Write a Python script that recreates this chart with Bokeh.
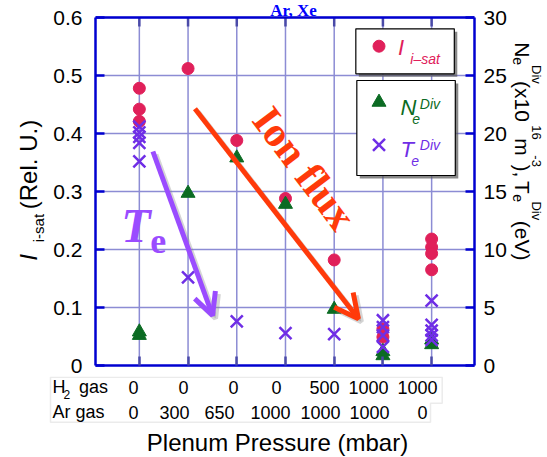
from math import pi, radians, sin, cos
from bokeh.plotting import figure
from bokeh.layouts import column, row
from bokeh.models import (Range1d, LinearAxis, FixedTicker, Label, Arrow, OpenHead,
                          PolyAnnotation, Span)
from bokeh.embed import file_html
from bokeh.resources import INLINE

# ---------------- data ----------------
categories = [1, 2, 3, 4, 5, 6, 7]
h2_gas = ["0", "0", "0", "0", "500", "1000", "1000"]
ar_gas = ["0", "300", "650", "1000", "1000", "1000", "0"]

isat_x = [1, 1, 1, 2, 3, 4, 5, 6, 6, 7, 7, 7, 7]
isat_y = [0.478, 0.442, 0.421, 0.512, 0.388, 0.288, 0.182, 0.063, 0.049, 0.218, 0.204, 0.193, 0.165]

ne_x = [1, 1, 2, 3, 4, 5, 6, 6, 7, 7]
ne_y = [2.9, 2.6, 14.85, 17.9, 13.9, 4.85, 1.2, 0.85, 2.2, 1.8]

te_x = [1, 1, 1, 1, 1, 2, 3, 4, 5, 6, 6, 6, 6, 7, 7, 7, 7, 7]
te_y = [20.6, 20.1, 19.7, 19.2, 17.6, 7.6, 3.8, 2.8, 2.7, 3.9, 3.3, 2.6, 1.6, 5.6, 3.5, 3.0, 2.6, 2.2]

left_ticks = [0, 0.1, 0.2, 0.3, 0.4, 0.5, 0.6]
right_ticks = [0, 5, 10, 15, 20, 25, 30]
LEFT_MAX, RIGHT_MAX = 0.6, 30

# ---------------- styles ----------------
C_I = "#e0205a"
C_N = "#0b6b23"
C_T = "#6f2ee6"
C_TE_ARROW = "#9a4cff"
C_ION = "#ff3a0a"
C_GRID = "#8c8cd4"
C_BLUE = "#0000d0"
C_TICK = "#4a4aa8"
SANS = "Liberation Sans"
SERIF = "Liberation Serif"
MID = 0.35   # baseline -> em-box middle, in units of font size

PW, PH = 547, 457
ROW_H = 376           # main row height (page top to just below the "0" tick labels)
BOT_H = PH - ROW_H
LEFT_W = 50
MAIN_R = 509          # right edge of the main figure
RIGHT_W = PW - MAIN_R
MAIN_W = MAIN_R - LEFT_W

# plotting box in page pixel coordinates; the frame reaches the page top so the
# title above the box can show
FX0, FX1, FY0, FY1 = 95.0, 476.0, 17.0, 365.0
X0, X1 = 0.1, 7.88
Y_TOP = LEFT_MAX * FY1 / (FY1 - FY0)


def dx(px):
    return X0 + (px - FX0) / (FX1 - FX0) * (X1 - X0)


def dy(py):
    return (FY1 - py) / (FY1 - FY0) * LEFT_MAX


# ---------------- main plot ----------------
p = figure(width=MAIN_W, height=ROW_H, x_range=Range1d(X0, X1), y_range=Range1d(0, Y_TOP),
           output_backend="svg", toolbar_location=None, title=None,
           min_border_left=int(FX0 - LEFT_W), min_border_right=int(MAIN_R - FX1),
           min_border_top=0, min_border_bottom=int(ROW_H - FY1))
p.extra_y_ranges = {"r": Range1d(0, RIGHT_MAX * FY1 / (FY1 - FY0))}
p.background_fill_color = "white"
p.border_fill_color = "white"
p.outline_line_color = None

p.xgrid.visible = False
p.ygrid.ticker = FixedTicker(ticks=left_ticks)
p.ygrid.grid_line_color = C_GRID
p.ygrid.grid_line_width = 1.5


def style_axis(ax, tick_color, label_size="21px"):
    ax.axis_line_color = C_BLUE
    ax.axis_line_width = 2.5
    ax.major_tick_in = 9
    ax.major_tick_out = 0
    ax.major_tick_line_color = tick_color
    ax.major_tick_line_width = 2.5
    ax.minor_tick_line_color = None
    ax.major_label_text_font = SANS
    ax.major_label_text_font_size = label_size
    ax.major_label_text_color = "black"


xa = p.xaxis[0]
xa.ticker = FixedTicker(ticks=categories)
style_axis(xa, C_TICK, "0px")
xa.major_label_overrides = {c: "" for c in categories}
xa.major_label_standoff = 0

ya = p.yaxis[0]
ya.ticker = FixedTicker(ticks=left_ticks)
ya.bounds = (0, LEFT_MAX)
style_axis(ya, C_BLUE)
ya.major_label_overrides = {0: "0"}
ya.major_label_standoff = 13

ra = LinearAxis(y_range_name="r", ticker=FixedTicker(ticks=right_ticks), bounds=(0, RIGHT_MAX))
style_axis(ra, C_BLUE)
ra.major_label_standoff = 9
p.add_layout(ra, "right")

# vertical grid lines at the categories, and inward ticks on the top edge
n = len(categories)
p.segment(x0=categories, y0=[0] * n, x1=categories, y1=[LEFT_MAX] * n,
          line_color=C_GRID, line_width=1.5)
p.segment(x0=categories, y0=[LEFT_MAX] * n, x1=categories, y1=[dy(FY0 + 9)] * n,
          line_color=C_TICK, line_width=2.5)
p.add_layout(Span(location=LEFT_MAX, dimension="width", line_color=C_BLUE, line_width=2.5))

# legend boxes (drawn before the markers)
for (l, t, r, b) in [(356.7, 28.3, 455.7, 73.3), (357.7, 80.0, 456.7, 175.0)]:
    p.quad(left=[dx(l + 3)], right=[dx(r + 3)], top=[dy(t + 3)], bottom=[dy(b + 3)],
           fill_color="#555555", fill_alpha=0.7, line_color=None)
    p.quad(left=[dx(l)], right=[dx(r)], top=[dy(t)], bottom=[dy(b)],
           fill_color="white", fill_alpha=1.0, line_color="black", line_width=1.2)

# data
p.scatter(isat_x, isat_y, marker="circle", size=12, fill_color=C_I, line_color=C_I)
p.scatter(ne_x, ne_y, y_range_name="r", marker="triangle", size=14,
          fill_color=C_N, line_color=C_N)
p.scatter(te_x, te_y, y_range_name="r", marker="x", size=17,
          line_color=C_T, line_width=2.5)


def lab(fig, fx, fy, px, py, text, size, color="black", font=SANS, style="normal",
        angle=0.0, align="left", baseline="alphabetic"):
    # (px, py): page position of the text baseline start (or of the centre for "middle")
    if baseline == "alphabetic":
        px = px - MID * size * sin(angle)
        py = py - MID * size * cos(angle)
    fig.add_layout(Label(x=fx(px), y=fy(py), text=text, text_font=font,
                         text_font_size=f"{size}px", text_color=color,
                         text_font_style=style, angle=angle,
                         text_align=align, text_baseline="middle"))


def mlab(px, py, text, size, **kw):
    lab(p, dx, dy, px, py, text, size, **kw)


# legend entries
p.scatter([dx(380)], [dy(45.7)], marker="circle", size=12, fill_color=C_I, line_color=C_I)
p.scatter([dx(380)], [dy(101.7)], marker="triangle", size=14, fill_color=C_N, line_color=C_N)
p.scatter([dx(380)], [dy(144.3)], marker="x", size=17, line_color=C_T, line_width=2.5)

mlab(399, 55, "I", 22, color=C_I, style="italic")
mlab(411.5, 63, "i\u2013sat", 14, color=C_I, style="italic")
mlab(401.7, 115, "N", 22, color=C_N, style="italic")
mlab(413.5, 123, "e", 14, color=C_N, style="italic")
mlab(421, 108, "Div", 14, color=C_N, style="italic")
mlab(401.7, 157, "T", 22, color=C_T, style="italic")
mlab(412.5, 165, "e", 14, color=C_T, style="italic")
mlab(421, 149, "Div", 14, color=C_T, style="italic")

# arrows
for (sx0, sy0, sx1, sy1, col, hs) in [(152.7, 151.0, 212.7, 315.0, C_TE_ARROW, 22),
                                      (195.0, 108.3, 359.3, 318.3, C_ION, 24)]:
    p.add_layout(Arrow(end=OpenHead(size=hs, line_color="#888888", line_width=5, line_alpha=0.35),
                       x_start=dx(sx0 + 3), y_start=dy(sy0 + 3), x_end=dx(sx1 + 3), y_end=dy(sy1 + 3),
                       line_color="#888888", line_width=5, line_alpha=0.35))
    p.add_layout(Arrow(end=OpenHead(size=hs, line_color=col, line_width=5),
                       x_start=dx(sx0), y_start=dy(sy0), x_end=dx(sx1), y_end=dy(sy1),
                       line_color=col, line_width=5))

mlab(305, 168, "Ion flux", 42, color=C_ION, font=SERIF, style="bold",
     angle=radians(-53), align="center", baseline="middle")
mlab(121, 242, "T", 48, color=C_TE_ARROW, font=SERIF, style="bold italic")
mlab(150, 253, "e", 36, color=C_TE_ARROW, font=SERIF, style="bold")

# title above the box, shrunk so that it fits above the top edge
mlab(294, 15.5, "Ar, Xe", 17, color="#0000ff", font=SERIF, style="bold", align="center")


# ---------------- decoration strips (page pixel coordinates) ----------------
def strip(x0, y0, w, h):
    f = figure(width=w, height=h, x_range=Range1d(0, w), y_range=Range1d(0, h),
               output_backend="svg", toolbar_location=None, title=None,
               x_axis_type=None, y_axis_type=None,
               min_border_left=0, min_border_right=0, min_border_top=0, min_border_bottom=0)
    f.outline_line_color = None
    f.grid.visible = False
    f.background_fill_color = "white"
    f.border_fill_color = "white"
    fx = lambda px: px - x0
    fy = lambda py: h - (py - y0)
    return f, fx, fy


# left strip: left axis title
left, lfx, lfy = strip(0, 0, LEFT_W, ROW_H)
lab(left, lfx, lfy, 36, 268, "I", 24, style="italic", angle=pi / 2)
lab(left, lfx, lfy, 43, 249, "i-sat", 15, angle=pi / 2)
lab(left, lfx, lfy, 36, 215, "(Rel. U.)", 24, angle=pi / 2)

# right strip: right axis title
right, rfx, rfy = strip(MAIN_R, 0, RIGHT_W, ROW_H)
RB, RSUB, RSUP = 515, 512.5, 531
for (bx, sy, txt, sz) in [(RB, 43, "N", 21), (RSUB, 58.5, "e", 14), (RSUP, 66.5, "Div", 13),
                          (RB, 83, "(x10", 21), (RSUP, 128.5, "16", 13), (RB, 142, "m", 21),
                          (RSUP, 159.5, "-3", 13), (RB, 169, "),", 21), (RB, 186, "T", 21),
                          (RSUB, 199.5, "e", 14), (RSUP, 207, "Div", 13), (RB, 227, "(eV)", 21)]:
    lab(right, rfx, rfy, bx, sy, txt, sz, angle=-pi / 2)

# bottom strip: gas table and x-axis title
BO = ROW_H
bot, bfx, bfy = strip(0, BO, PW, BOT_H)
tx = [50, 441.7, 441.7, 430, 430, 50]
ty = [376.8, 376.8, 402.7, 402.7, 421.7, 421.7]
bot.add_layout(PolyAnnotation(xs=[bfx(v) for v in tx], ys=[bfy(v) for v in ty],
                              fill_color=None, fill_alpha=0, line_color="#bdbdbd", line_width=1.5))
lab(bot, bfx, bfy, 52, 393, "H", 18)
lab(bot, bfx, bfy, 63, 398, "2", 12)
lab(bot, bfx, bfy, 78.5, 393, "gas", 18)
lab(bot, bfx, bfy, 52, 418, "Ar gas", 18)

row1_px = [133, 183, 233, 276, 324, 368, 417]
row2_px = [133, 174, 219, 270, 320, 369, 422]
for px, s in zip(row1_px, h2_gas):
    lab(bot, bfx, bfy, px, 393, s, 18, align="center")
for px, s in zip(row2_px, ar_gas):
    lab(bot, bfx, bfy, px, 418, s, 18, align="center")

lab(bot, bfx, bfy, 277, 450, "Plenum Pressure (mbar)", 24, align="center")

layout = column(row(left, p, right), bot)
open("out.html", "w").write(file_html(layout, INLINE))
